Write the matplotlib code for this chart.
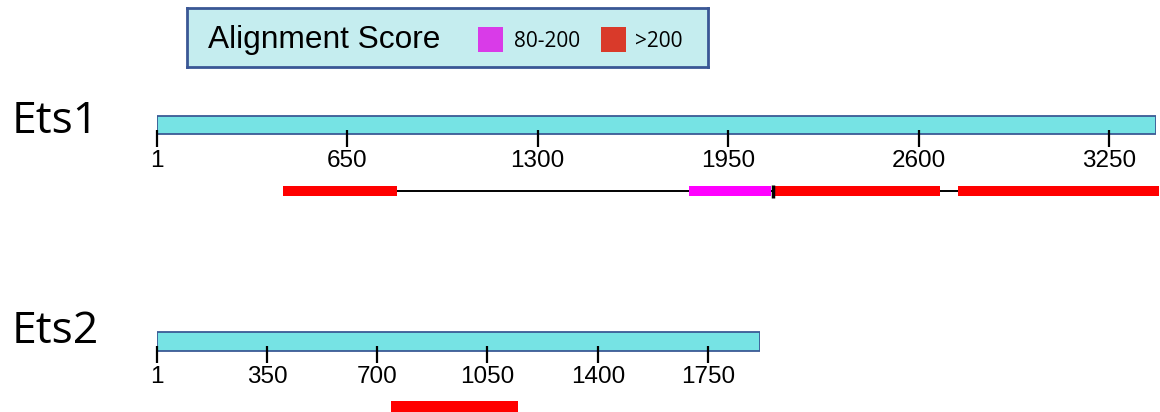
import matplotlib.pyplot as plt
from matplotlib.patches import Rectangle

# protein lengths, axis ticks and BLAST-style hits (residue positions)
ets1_length = 3410
ets1_ticks = [1, 650, 1300, 1950, 2600, 3250]
ets1_hit_start = [431, 1817, 2110, 2735]
ets1_hit_end = [820, 2097, 2673, 3420]
ets1_hit_class = [">200", "80-200", ">200", ">200"]
ets1_marks = [2103]

ets2_length = 1915
ets2_ticks = [1, 350, 700, 1050, 1400, 1750]
ets2_hit_start = [744]
ets2_hit_end = [1147]
ets2_hit_class = [">200"]
ets2_marks = []

score_classes = ["80-200", ">200"]
bar_colors = {"80-200": "#FF00FF", ">200": "#FF0000"}
legend_colors = {"80-200": "#D93BE8", ">200": "#D93A2A"}

W, H = 1160, 412
fig = plt.figure(figsize=(W / 100, H / 100), dpi=100)


def px_axes(x0, y0, x1, y1, **kw):
    return fig.add_axes([x0 / W, 1 - y1 / H, (x1 - x0) / W, (y1 - y0) / H], **kw)


def draw_gene(name, length, ticks, starts, ends, classes, marks, box, bar_y, spine_y, hit_y, label_base):
    x0, y0, x1, y1 = box
    ax = px_axes(x0, y0, x1, y1)
    ax.set_xlim(1, length)
    ax.set_ylim(y1, y0)
    ax.patch.set_alpha(0)
    for s in ["top", "left", "right", "bottom"]:
        ax.spines[s].set_visible(False)
    ax.spines["bottom"].set_position(("data", spine_y))
    ax.set_yticks([])
    ax.barh(bar_y, length - 1, left=1, height=18.5, color="#76E3E4",
            edgecolor="#3B5A95", linewidth=1.3, zorder=1)
    ax.set_xticks(ticks)
    ax.set_xticklabels([str(t) for t in ticks], fontfamily="Liberation Sans")
    ax.tick_params(axis="x", direction="out", length=12.3, width=1.6, pad=2.5,
                   labelsize=17.5, color="black")
    ax.hlines(hit_y, min(starts), max(ends), color="black", linewidth=1.4,
              zorder=2, clip_on=False)
    for s, e, c in zip(starts, ends, classes):
        ax.barh(hit_y, e - s, left=s, height=10.5, color=bar_colors[c],
                zorder=3, clip_on=False)
    for m in marks:
        ax.vlines(m, hit_y - 6.5, hit_y + 6.5, color="black", linewidth=2.5, zorder=4)
    fig.text(12 / W, 1 - label_base / H, name, fontsize=32, fontfamily="Open Sans",
             va="baseline", ha="left")
    return ax


draw_gene("Ets1", ets1_length, ets1_ticks, ets1_hit_start, ets1_hit_end, ets1_hit_class,
          ets1_marks, (157, 100, 1156, 205), 125, 129.5, 191, 133)
draw_gene("Ets2", ets2_length, ets2_ticks, ets2_hit_start, ets2_hit_end, ets2_hit_class,
          ets2_marks, (157, 320, 760, 412), 341.5, 345.5, 406.5, 343)

# legend box
leg = px_axes(187, 8, 708, 67)
leg.set_facecolor("#C5EDEF")
for s in leg.spines.values():
    s.set_edgecolor("#3A5795")
    s.set_linewidth(2)
leg.set_xticks([])
leg.set_yticks([])
leg.set_xlim(187, 708)
leg.set_ylim(67, 8)
leg.text(208, 48, "Alignment Score", fontsize=22.8, fontfamily="Liberation Sans",
         va="baseline", ha="left")
for cls, sq_x, tx in zip(score_classes, [478, 601], [514, 635]):
    leg.add_patch(Rectangle((sq_x, 27), 25, 25, facecolor=legend_colors[cls], edgecolor="none"))
    leg.text(tx, 47, cls, fontsize=15, fontfamily="Open Sans", va="baseline", ha="left")

fig.savefig("out.png", dpi=100)
